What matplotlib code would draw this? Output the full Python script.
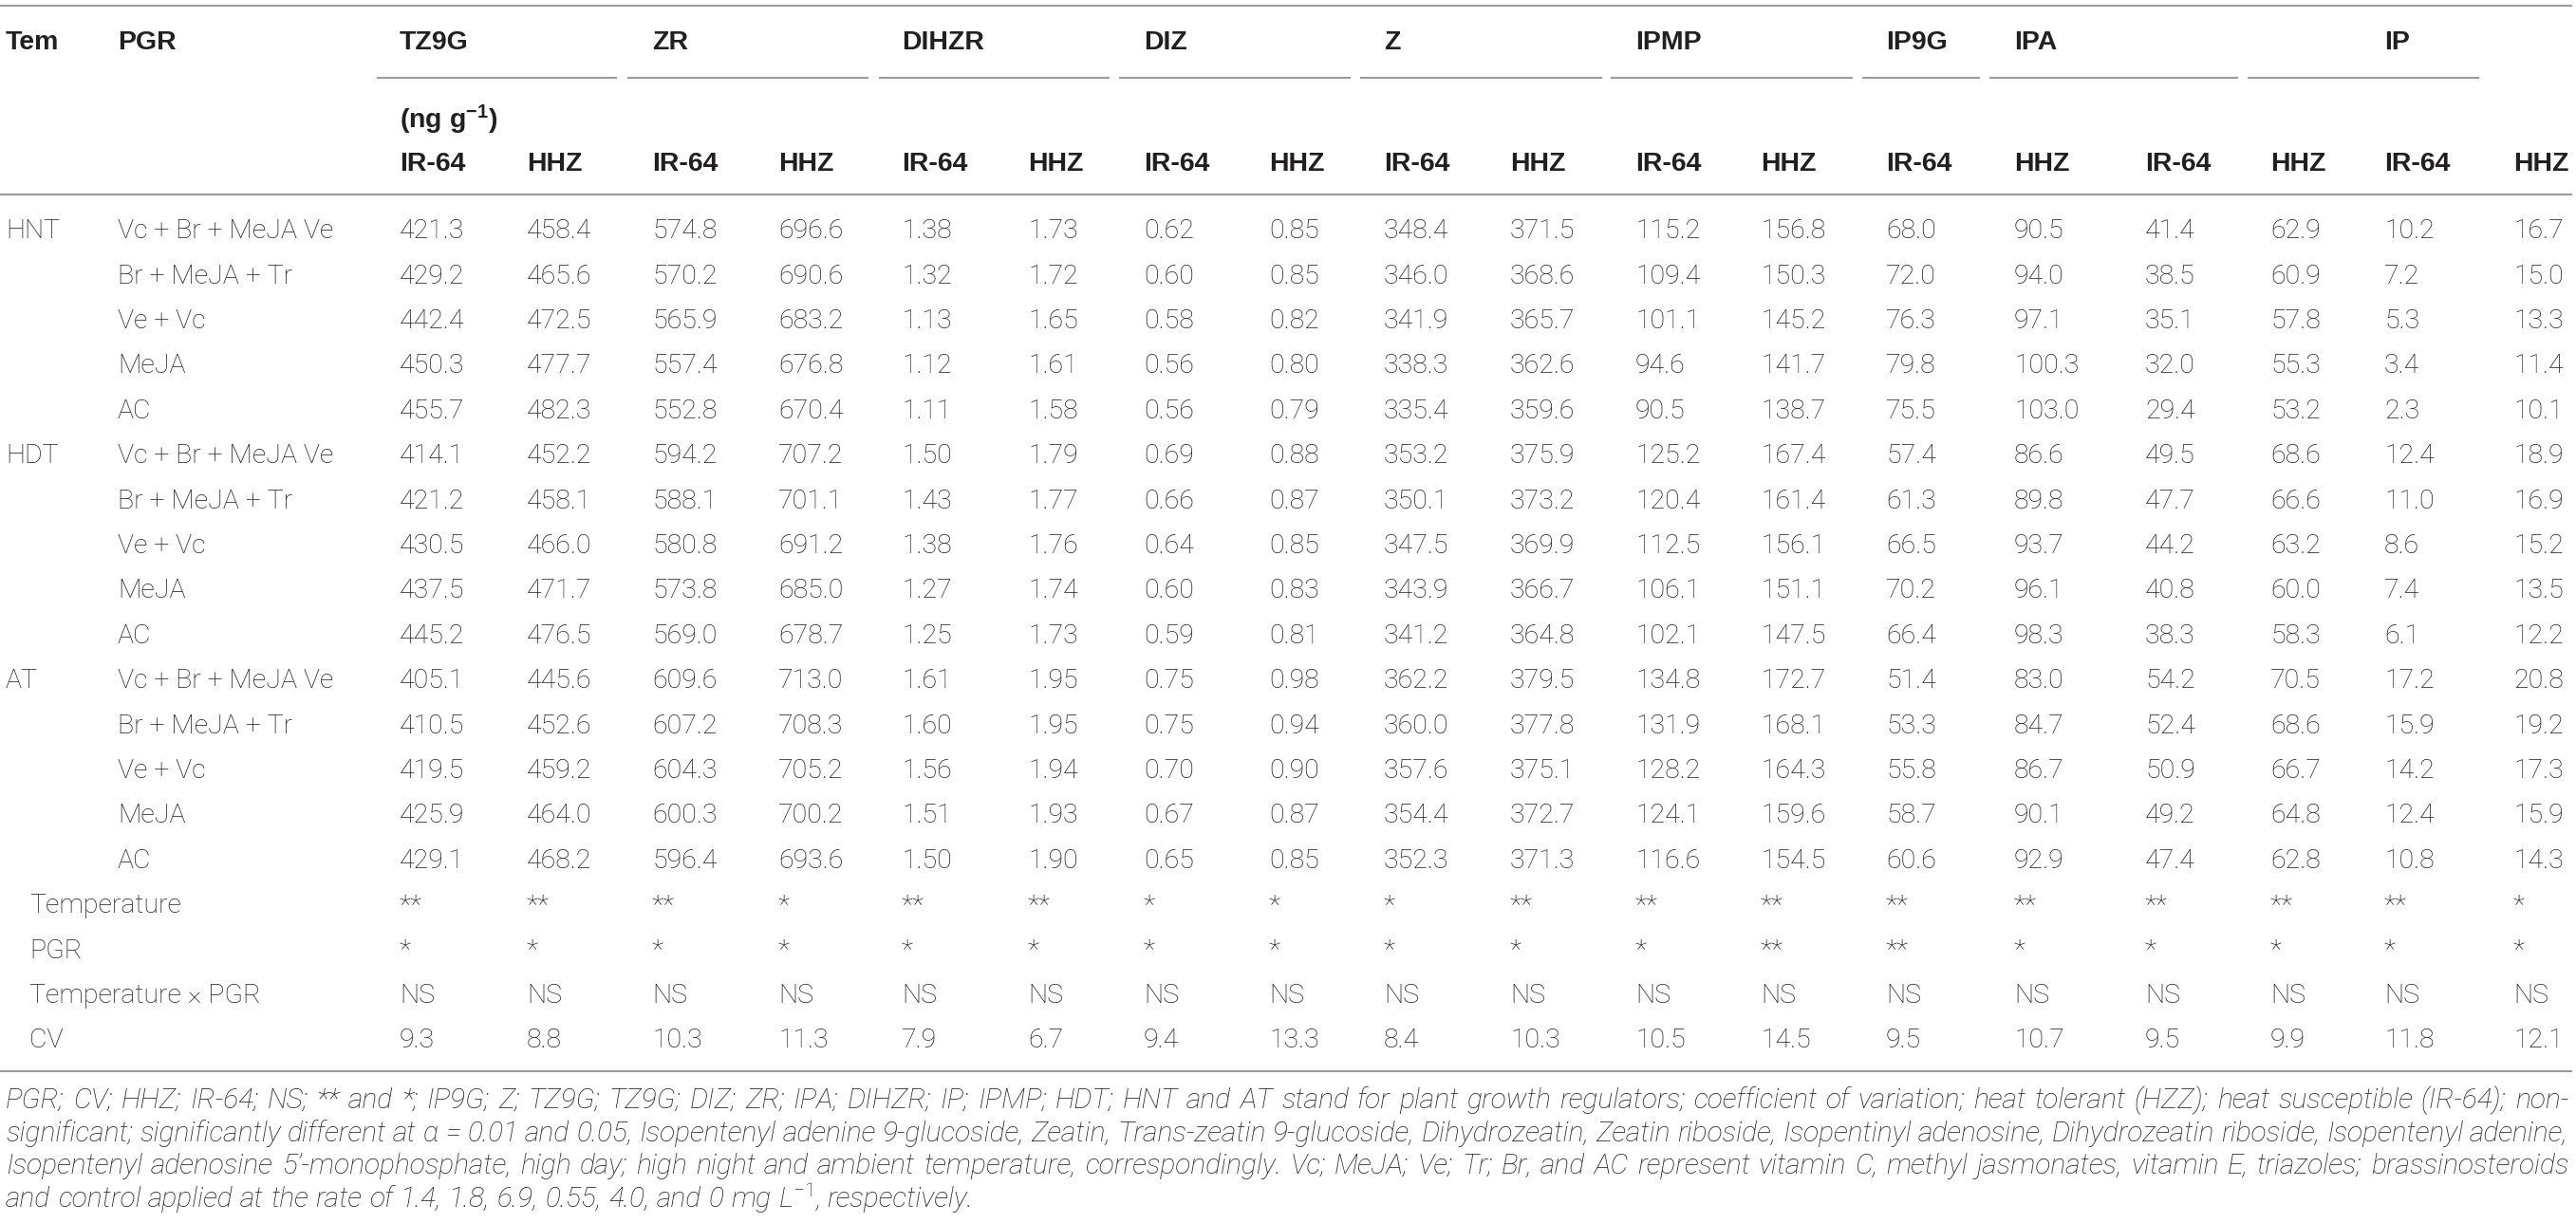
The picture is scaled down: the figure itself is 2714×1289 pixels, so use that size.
import matplotlib
matplotlib.use("Agg")
import matplotlib.pyplot as plt

plt.rcParams['font.family'] = ['Liberation Sans', 'DejaVu Sans']
plt.rcParams['mathtext.fontset'] = 'custom'
plt.rcParams['mathtext.rm'] = 'Roboto:light'
plt.rcParams['mathtext.it'] = 'Roboto:italic:light'
plt.rcParams['mathtext.bf'] = 'Liberation Sans:bold'

# ---- table content ----
hormones = ["TZ9G", "ZR", "DIHZR", "DIZ", "Z", "IPMP", "IP9G", "IPA", "IP"]
hormone_col = [0, 2, 4, 6, 8, 10, 12, 13, 16]   # column where each name sits
cultivars = ["IR-64", "HHZ"] * 9
temps = ["HNT", "HDT", "AT"]
pgrs = ["Vc + Br + MeJA Ve", "Br + MeJA + Tr", "Ve + Vc", "MeJA", "AC"]

hnt = [
    [421.3, 458.4, 574.8, 696.6, 1.38, 1.73, 0.62, 0.85, 348.4, 371.5, 115.2, 156.8, 68.0, 90.5, 41.4, 62.9, 10.2, 16.7],
    [429.2, 465.6, 570.2, 690.6, 1.32, 1.72, 0.60, 0.85, 346.0, 368.6, 109.4, 150.3, 72.0, 94.0, 38.5, 60.9, 7.2, 15.0],
    [442.4, 472.5, 565.9, 683.2, 1.13, 1.65, 0.58, 0.82, 341.9, 365.7, 101.1, 145.2, 76.3, 97.1, 35.1, 57.8, 5.3, 13.3],
    [450.3, 477.7, 557.4, 676.8, 1.12, 1.61, 0.56, 0.80, 338.3, 362.6, 94.6, 141.7, 79.8, 100.3, 32.0, 55.3, 3.4, 11.4],
    [455.7, 482.3, 552.8, 670.4, 1.11, 1.58, 0.56, 0.79, 335.4, 359.6, 90.5, 138.7, 75.5, 103.0, 29.4, 53.2, 2.3, 10.1],
]
hdt = [
    [414.1, 452.2, 594.2, 707.2, 1.50, 1.79, 0.69, 0.88, 353.2, 375.9, 125.2, 167.4, 57.4, 86.6, 49.5, 68.6, 12.4, 18.9],
    [421.2, 458.1, 588.1, 701.1, 1.43, 1.77, 0.66, 0.87, 350.1, 373.2, 120.4, 161.4, 61.3, 89.8, 47.7, 66.6, 11.0, 16.9],
    [430.5, 466.0, 580.8, 691.2, 1.38, 1.76, 0.64, 0.85, 347.5, 369.9, 112.5, 156.1, 66.5, 93.7, 44.2, 63.2, 8.6, 15.2],
    [437.5, 471.7, 573.8, 685.0, 1.27, 1.74, 0.60, 0.83, 343.9, 366.7, 106.1, 151.1, 70.2, 96.1, 40.8, 60.0, 7.4, 13.5],
    [445.2, 476.5, 569.0, 678.7, 1.25, 1.73, 0.59, 0.81, 341.2, 364.8, 102.1, 147.5, 66.4, 98.3, 38.3, 58.3, 6.1, 12.2],
]
at = [
    [405.1, 445.6, 609.6, 713.0, 1.61, 1.95, 0.75, 0.98, 362.2, 379.5, 134.8, 172.7, 51.4, 83.0, 54.2, 70.5, 17.2, 20.8],
    [410.5, 452.6, 607.2, 708.3, 1.60, 1.95, 0.75, 0.94, 360.0, 377.8, 131.9, 168.1, 53.3, 84.7, 52.4, 68.6, 15.9, 19.2],
    [419.5, 459.2, 604.3, 705.2, 1.56, 1.94, 0.70, 0.90, 357.6, 375.1, 128.2, 164.3, 55.8, 86.7, 50.9, 66.7, 14.2, 17.3],
    [425.9, 464.0, 600.3, 700.2, 1.51, 1.93, 0.67, 0.87, 354.4, 372.7, 124.1, 159.6, 58.7, 90.1, 49.2, 64.8, 12.4, 15.9],
    [429.1, 468.2, 596.4, 693.6, 1.50, 1.90, 0.65, 0.85, 352.3, 371.3, 116.6, 154.5, 60.6, 92.9, 47.4, 62.8, 10.8, 14.3],
]
stat_labels = ["Temperature", "PGR", "Temperature \u00d7 PGR", "CV"]
sig_temp = ["**", "**", "**", "*", "**", "**", "*", "*", "*", "**", "**", "**", "**", "**", "**", "**", "**", "*"]
sig_pgr = ["*", "*", "*", "*", "*", "*", "*", "*", "*", "*", "*", "**", "**", "*", "*", "*", "*", "*"]
sig_int = ["NS"] * 18
cv = [9.3, 8.8, 10.3, 11.3, 7.9, 6.7, 9.4, 13.3, 8.4, 10.3, 10.5, 14.5, 9.5, 10.7, 9.5, 9.9, 11.8, 12.1]

footnote = [
    "PGR; CV; HHZ; IR-64; NS; ** and *; IP9G; Z; TZ9G; TZ9G; DIZ; ZR; IPA; DIHZR; IP; IPMP; HDT; HNT and AT stand for plant growth regulators; coefficient of variation; heat tolerant (HZZ); heat susceptible (IR-64); non-",
    "significant; significantly different at \u03b1 = 0.01 and 0.05, Isopentenyl adenine 9-glucoside, Zeatin, Trans-zeatin 9-glucoside, Dihydrozeatin, Zeatin riboside, Isopentinyl adenosine, Dihydrozeatin riboside, Isopentenyl adenine,",
    "Isopentenyl adenosine 5\u2019-monophosphate, high day; high night and ambient temperature, correspondingly. Vc; MeJA; Ve; Tr; Br, and AC represent vitamin C, methyl jasmonates, vitamin E, triazoles; brassinosteroids",
    r"and control applied at the rate of 1.4, 1.8, 6.9, 0.55, 4.0, and 0 mg L$^{-1}$, respectively.",
]

# ---- layout (pixels) ----
W, H = 2714, 1289
col_x = [421, 555, 687, 820, 950, 1083, 1205, 1337, 1458, 1591,
         1723, 1855, 1987, 2122, 2260, 2392, 2512, 2648]
group_lines = [(397, 650), (661, 915), (926, 1169), (1179, 1423), (1433, 1688),
               (1697, 1952), (1962, 2086), (2096, 2358), (2368, 2612)]
row0, drow = 241, 47.4
ink = '#231f20'
rule = '#9b9b9b'
fs = 20.5
light = dict(family=['Roboto', 'Liberation Sans', 'DejaVu Sans'], fontweight='light')

fig = plt.figure(figsize=(W / 100, H / 100), dpi=100)
ax = fig.add_axes([0, 0, 1, 1])
ax.set_xlim(0, W)
ax.set_ylim(H, 0)
ax.axis('off')

def base(yc, size=fs):
    # baseline from visual centre of capitals
    return yc + 0.36 * size * 100 / 72

# rules
ax.hlines([6, 205, 1129], 0, 2710, color=rule, lw=1.5)
for x0, x1 in group_lines:
    ax.hlines(82, x0, x1, color=rule, lw=1.5)

# header
ax.text(6, base(42), "Tem", fontsize=fs, fontweight='bold', color=ink)
ax.text(124, base(42), "PGR", fontsize=fs, fontweight='bold', color=ink)
for name, c in zip(hormones, hormone_col):
    ax.text(col_x[c], base(42), name, fontsize=fs, fontweight='bold', color=ink)
ax.text(col_x[0], base(125), r"(ng g$^{\mathbf{-1}}$)", fontsize=fs, fontweight='bold', color=ink)
for x, cul in zip(col_x, cultivars):
    ax.text(x, base(170), cul, fontsize=fs, fontweight='bold', color=ink)

# body
def fmt(v, j):
    return f"{v:.2f}" if 4 <= j <= 7 else f"{v:.1f}"

r = 0
for t, block in zip(temps, [hnt, hdt, at]):
    for k, (p, vals) in enumerate(zip(pgrs, block)):
        yb = base(row0 + r * drow)
        if k == 0:
            ax.text(6, yb, t, fontsize=fs, color=ink, **light)
        ax.text(124, yb, p, fontsize=fs, color=ink, **light)
        for j, v in enumerate(vals):
            ax.text(col_x[j], yb, fmt(v, j), fontsize=fs, color=ink, **light)
        r += 1

stat_rows = [sig_temp, sig_pgr, sig_int, [f"{v:.1f}" for v in cv]]
for lab, vals in zip(stat_labels, stat_rows):
    yb = base(row0 + r * drow)
    ax.text(31, yb, lab, fontsize=fs, color=ink, **light)
    for x, v in zip(col_x, vals):
        ax.text(x, yb, v, fontsize=fs, color=ink, **light)
    r += 1

# footnote, justified like the journal layout
renderer = fig.canvas.get_renderer()
left, right = 6, 2706
natural = []
for line in footnote[:3]:
    probe = ax.text(0, 0, line, fontsize=10, style='italic', **light)
    natural.append(probe.get_window_extent(renderer).width)
    probe.remove()
fsn = 10 * (right - left) / max(natural)

foot_y = [1157, 1192, 1226, 1261]
for i, (line, yc) in enumerate(zip(footnote, foot_y)):
    words = line.split(' ')
    arts = [ax.text(0, base(yc, fsn), w, fontsize=fsn, style='italic', color=ink, **light)
            for w in words]
    widths = [a.get_window_extent(renderer).width for a in arts]
    if i < len(footnote) - 1:
        gap = (right - left - sum(widths)) / (len(words) - 1)
    else:
        gap = 0.25 * fsn * 100 / 72
    x = left
    for a, w in zip(arts, widths):
        a.set_x(x)
        x += w + gap

fig.savefig("out.png", dpi=100, facecolor='white')
